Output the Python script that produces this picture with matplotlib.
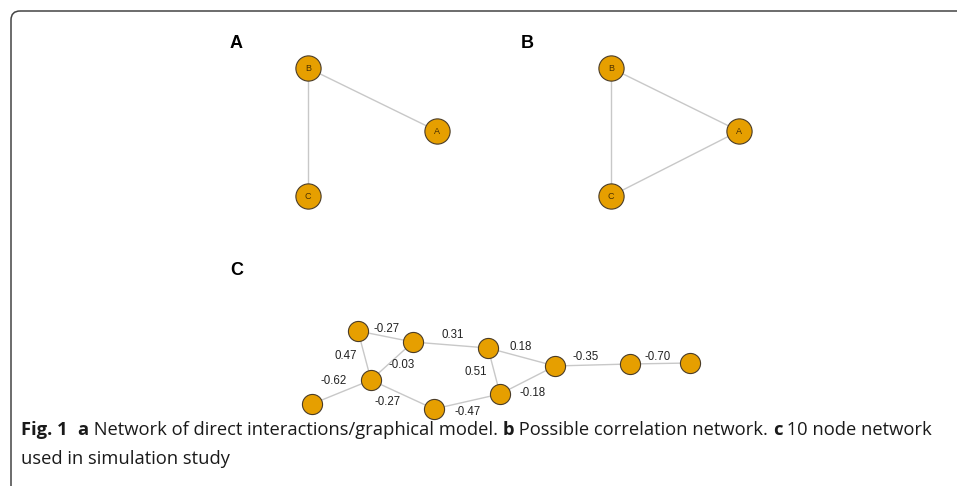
import matplotlib
matplotlib.use("Agg")
from matplotlib import pyplot as plt
from matplotlib.patches import FancyBboxPatch

# panel A / B: three node graphs
abc_names = ['A', 'B', 'C']
a_x = [437, 308, 308]
a_y = [131, 68, 196]
a_edges = [(1, 0), (1, 2)]
b_x = [739, 611, 611]
b_y = [131, 68, 196]
b_edges = [(1, 0), (1, 2), (2, 0)]

# panel C: 10 node network
c_x = [358, 413, 371, 312, 434, 488, 500, 555, 630, 690]
c_y = [331, 342, 380, 404, 409, 348, 394, 366, 364, 363]
c_edges = [(0, 1), (0, 2), (1, 2), (2, 3), (2, 4), (1, 5),
           (5, 7), (5, 6), (4, 6), (6, 7), (7, 8), (8, 9)]
c_weights = ['-0.27', '0.47', '-0.03', '-0.62', '-0.27', '0.31',
             '0.18', '0.51', '-0.47', '-0.18', '-0.35', '-0.70']
label_x = [387, 346, 402, 334, 388, 453, 521, 476, 468, 533, 586, 658]
label_y = [329, 356, 365, 381, 402, 335, 347, 372, 412, 393, 357, 357]

node_col = '#E69F00'
edge_col = '#c8c8c8'

fig = plt.figure(figsize=(9.57, 4.86), dpi=100)
ax = fig.add_axes([0, 0, 1, 1])
ax.set_xlim(0, 957)
ax.set_ylim(486, 0)
ax.axis('off')

# frame with rounded corner
frame = FancyBboxPatch((11, 11), 1100, 600, boxstyle='round,pad=0,rounding_size=9',
                       fc='none', ec='#444444', lw=1.1, clip_on=True)
ax.add_patch(frame)

def draw_graph(xs, ys, edges, size, names=None):
    for i, j in edges:
        ax.plot([xs[i], xs[j]], [ys[i], ys[j]], c=edge_col, lw=1.0, zorder=1)
    ax.scatter(xs, ys, s=size, c=node_col, edgecolors='#4a3c28', linewidths=0.8, zorder=2)
    if names:
        for n, x, y in zip(names, xs, ys):
            ax.text(x, y + 0.5, n, ha='center', va='center', fontsize=6.5,
                    color='#4a3000', family='Liberation Sans', zorder=3)

draw_graph(a_x, a_y, a_edges, 330, abc_names)
draw_graph(b_x, b_y, b_edges, 330, abc_names)
draw_graph(c_x, c_y, c_edges, 210)
for w, x, y in zip(c_weights, label_x, label_y):
    ax.text(x, y, w, ha='center', va='center', fontsize=8.3,
            family='Liberation Sans', color='#222222')

for lab, x, y in [('A', 236, 44), ('B', 527, 44), ('C', 237, 270)]:
    ax.text(x, y, lab, ha='center', va='center', fontsize=13, fontweight='bold',
            family='Liberation Sans')

# caption
cap_font = 'Open Sans'
cap_size = 13.2
t = ax.text(21, 430, 'Fig. 1', ha='left', va='center', fontsize=cap_size, fontweight='bold',
            family=cap_font, color='#1a1a1a')
fig.canvas.draw()
parts = [('a', True), (' Network of direct interactions/graphical model. ', False),
         ('b', True), (' Possible correlation network. ', False),
         ('c', True), (' 10 node network', False)]
bb = t.get_window_extent()
x0 = ax.transData.inverted().transform((bb.x1, 0))[0] + 10
for s, bold in parts:
    tt = ax.text(x0, 430, s, ha='left', va='center', fontsize=cap_size,
                 fontweight='bold' if bold else 'normal', family=cap_font, color='#1a1a1a')
    fig.canvas.draw()
    bb = tt.get_window_extent()
    x0 = ax.transData.inverted().transform((bb.x1, 0))[0]
ax.text(21, 459, 'used in simulation study', ha='left', va='center', fontsize=cap_size,
        family=cap_font, color='#1a1a1a')

fig.savefig('out.png', dpi=100)
